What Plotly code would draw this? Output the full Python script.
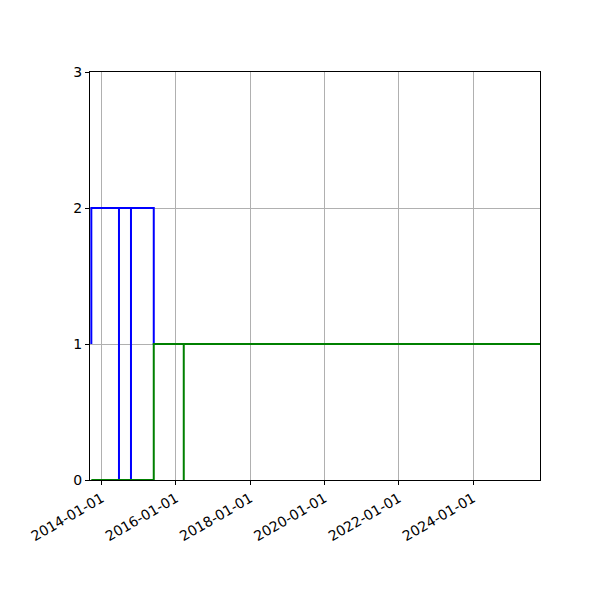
import plotly.graph_objects as go

# Data (step series)
blue_dates = ["2013-09-21", "2013-09-21", "2014-06-20", "2014-06-20",
              "2014-10-16", "2014-10-16", "2015-05-28", "2025-10-20"]
blue_values = [1, 2, 0, 2, 0, 2, 1, 1]

green_dates = ["2013-09-21", "2015-05-28", "2016-03-18", "2016-03-18", "2025-10-20"]
green_values = [0, 1, 0, 1, 1]

x_range = ["2013-09-08", "2025-10-20"]
y_ticks = [0, 1, 2, 3]

fig = go.Figure()
fig.add_trace(go.Scatter(x=blue_dates, y=blue_values, mode="lines",
                         line=dict(color="#0000ff", width=2, shape="hv"),
                         showlegend=False))
fig.add_trace(go.Scatter(x=green_dates, y=green_values, mode="lines",
                         line=dict(color="#008000", width=2, shape="hv"),
                         showlegend=False))

axis_common = dict(showline=True, linecolor="black", linewidth=1, mirror=True,
                   ticks="outside", ticklen=4, tickcolor="black", tickwidth=1,
                   showgrid=True, gridcolor="#b0b0b0", gridwidth=1,
                   zeroline=False, tickfont=dict(family="DejaVu Sans", size=14, color="black"))

fig.update_layout(
    width=600, height=600,
    margin=dict(l=82, r=68, t=64, b=128),
    plot_bgcolor="white", paper_bgcolor="white",
    xaxis=dict(type="date", range=x_range, tick0="2014-01-01", dtick="M24",
               tickformat="%Y-%m-%d", tickangle=-30, **axis_common),
    yaxis=dict(range=[0, 3], tickvals=y_ticks, **axis_common),
)

fig.write_html("out.html")
